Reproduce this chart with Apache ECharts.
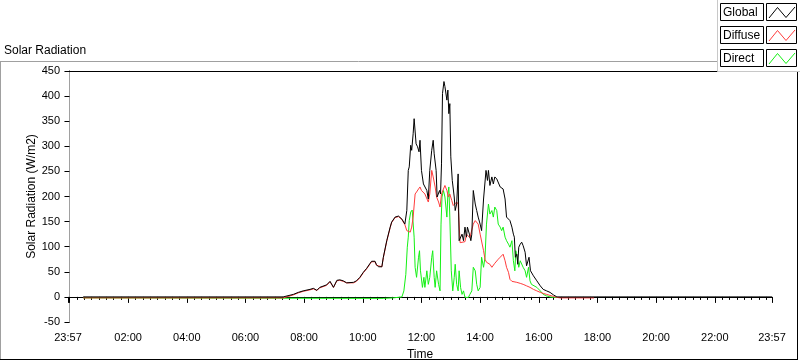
<!DOCTYPE html>
<html><head><meta charset="utf-8">
<script src="https://cdn.jsdelivr.net/npm/echarts@6/dist/echarts.min.js"></script>
<style>html,body{margin:0;padding:0;background:#fff}#c{width:800px;height:361px}</style>
</head><body><div id="c"></div><script>
// ---- data (times as HH:MM, values in W/m2) ----
const xTickLabels = ["23:57","02:00","04:00","06:00","08:00","10:00","12:00","14:00","16:00","18:00","20:00","22:00","23:57"];
const yTicks = [-50,0,50,100,150,200,250,300,350,400,450];

const globalTimes = ["00:28","07:17","07:38","07:48","07:58","08:12","08:19","08:26","08:32","08:46","08:53","09:00","09:07","09:13","09:20","09:27","09:41","09:47","09:54","10:01","10:08","10:15","10:18","10:22","10:25","10:28","10:32","10:39","10:42","10:49","10:56","10:59","11:06","11:13","11:20","11:26","11:30","11:33","11:35","11:38","11:40","11:43","11:45","11:49","11:52","11:55","11:57","12:00","12:04","12:11","12:14","12:17","12:21","12:24","12:26","12:30","12:32","12:37","12:39","12:41","12:43","12:46","12:48","12:52","12:54","12:56","12:58","13:00","13:03","13:07","13:09","13:12","13:15","13:17","13:20","13:23","13:26","13:29","13:32","13:34","13:38","13:41","13:43","13:46","13:50","13:53","13:56","14:00","14:03","14:07","14:12","14:15","14:17","14:20","14:24","14:27","14:30","14:34","14:37","14:41","14:44","14:47","14:51","14:54","14:58","15:01","15:05","15:08","15:10","15:12","15:15","15:17","15:19","15:22","15:25","15:28","15:32","15:35","15:40","15:43","15:49","15:56","16:03","16:09","16:16","16:23","16:30","16:37","23:57"];
const globalValues = [0,0,5,9,12,15,17,13,19,24,31,19,33,34,32,28,29,32,39,49,57,67,71,69,71,64,60,60,79,112,139,149,159,161,155,145,172,252,259,302,292,325,355,305,299,289,312,252,225,212,195,252,292,312,285,252,199,212,205,265,405,429,419,392,412,365,385,279,232,199,172,185,245,112,109,125,112,139,119,139,125,112,125,212,185,172,159,145,132,195,252,232,252,222,239,225,239,235,232,219,222,215,195,159,159,152,139,125,119,79,85,65,99,105,109,102,89,62,79,52,42,32,22,15,12,9,4,0,0];

const diffuseTimes = ["00:28","07:17","07:38","07:48","07:58","08:12","08:19","08:26","08:32","08:46","08:53","09:00","09:07","09:13","09:20","09:27","09:41","09:47","09:54","10:01","10:08","10:15","10:18","10:22","10:25","10:28","10:32","10:39","10:42","10:49","10:56","10:59","11:06","11:13","11:20","11:26","11:30","11:37","11:40","11:43","11:47","11:50","11:54","11:57","12:00","12:04","12:07","12:11","12:14","12:17","12:21","12:23","12:24","12:28","12:31","12:35","12:38","12:41","12:45","12:48","12:52","12:55","12:58","13:02","13:05","13:09","13:12","13:15","13:19","13:22","13:29","13:32","13:39","13:46","13:50","13:53","13:56","14:00","14:03","14:07","14:10","14:13","14:20","14:24","14:27","14:30","14:34","14:37","14:41","14:44","14:47","14:51","14:54","14:58","15:01","15:05","15:08","15:15","15:22","15:28","15:35","15:42","15:49","15:56","16:03","16:09","16:16","16:23","16:30","16:37","16:44","17:53"];
const diffuseValues = [-2,-2,4,8,11,14,16,13,18,23,30,19,32,33,31,28,28,31,38,48,56,66,70,69,70,63,60,60,78,111,138,148,158,160,154,144,132,129,139,159,205,209,215,219,212,215,205,202,189,205,252,252,239,219,199,189,179,205,215,222,212,199,205,192,182,179,189,185,108,105,110,125,118,145,152,155,145,125,128,92,75,69,65,59,62,67,69,75,79,82,85,72,59,49,35,31,29,29,27,25,22,19,15,12,9,7,5,3,1,-1,-2,-2];

const directTimes = ["00:28","10:42","11:02","11:20","11:24","11:28","11:31","11:33","11:35","11:38","11:41","11:43","11:45","11:47","11:50","11:54","11:56","11:58","12:02","12:05","12:07","12:11","12:14","12:17","12:21","12:23","12:26","12:28","12:31","12:35","12:38","12:40","12:42","12:45","12:48","12:52","12:54","12:56","12:58","13:01","13:04","13:07","13:09","13:12","13:15","13:17","13:20","13:23","13:26","13:29","13:36","13:39","13:43","13:46","13:50","13:53","13:56","14:00","14:03","14:07","14:10","14:13","14:17","14:20","14:24","14:27","14:30","14:34","14:37","14:41","14:44","14:47","14:51","14:54","14:58","15:01","15:05","15:08","15:11","15:13","15:16","15:19","15:22","15:25","15:28","15:32","15:35","15:39","15:42","15:45","15:49","15:56","16:03","16:09","16:16","16:23","16:30","16:37"];
const directValues = [-2,-3,-2,0,12,45,99,119,152,169,173,175,119,59,39,79,92,52,19,39,19,52,25,39,79,92,39,19,52,25,12,145,199,212,199,159,205,219,159,52,12,39,65,25,12,52,19,5,12,-1,-1,5,12,59,52,25,12,19,79,59,79,145,185,165,172,159,179,172,145,139,132,139,119,112,105,99,112,72,52,92,79,59,72,69,59,52,39,59,32,25,25,19,12,5,2,0,-1,-1];

const seriesNames = ["Global","Diffuse","Direct"];
const seriesColors = ["#000000","#ff3c3c","#14f014"];

// ---- helpers ----
function toMin(s){const p=s.split(':');return (+p[0])*60+(+p[1]);}
function pairs(ts,vs){return ts.map((t,i)=>[toMin(t),vs[i]]);}
const X_MIN=-3, X_MAX=1437;
const labelTicks = xTickLabels.map((l,i)=> i===0 ? X_MIN : toMin(l));
const labelMap = {}; labelTicks.forEach((v,i)=>labelMap[v]=xTickLabels[i]);
const majorTicks = labelTicks.concat([0]);
const minorTicks = []; for(let m=0;m<=1425;m+=15){ if(m%120!==0) minorTicks.push(m); }

const FONT='Liberation Sans';
const chart = echarts.init(document.getElementById('c'));
const graphic = [
  {type:'line',shape:{x1:0,y1:61.5,x2:717,y2:61.5},style:{stroke:'#a0a0a0',lineWidth:1}},
  {type:'line',shape:{x1:0.5,y1:61.5,x2:0.5,y2:360},style:{stroke:'#a0a0a0',lineWidth:1}},
  {type:'line',shape:{x1:0,y1:359.5,x2:798,y2:359.5},style:{stroke:'#000',lineWidth:1}},
  {type:'line',shape:{x1:797.5,y1:72,x2:797.5,y2:360},style:{stroke:'#000',lineWidth:1}},
  {type:'rect',z:100,shape:{x:717.5,y:-1,width:83,height:72.5},style:{fill:'#fff',stroke:'#c8c8c8',lineWidth:1}}
];
seriesNames.forEach((n,i)=>{
  const y = 3.5 + i*23;
  graphic.push({type:'rect',z:101,shape:{x:720.5,y:y,width:43,height:17},style:{fill:'#fff',stroke:'#000',lineWidth:1}});
  graphic.push({type:'text',z:102,x:723,y:y+3,style:{text:n,fill:'#000',font:'12px '+FONT,textVerticalAlign:'top'}});
  graphic.push({type:'rect',z:101,shape:{x:766.5,y:y,width:30,height:17},style:{fill:'#fff',stroke:'#000',lineWidth:1}});
  graphic.push({type:'polyline',z:102,shape:{points:[[769,y+14.5],[777.5,y+4],[786,y+14],[795,y+3.5]]},style:{stroke:seriesColors[i],lineWidth:1,fill:null}});
});

const option = {
  animation:false,
  backgroundColor:'#fff',
  textStyle:{fontFamily:FONT},
  title:{text:'Solar Radiation',left:4,top:45,padding:0,textStyle:{fontSize:12,fontWeight:'normal',color:'#000',fontFamily:FONT}},
  grid:{left:68,right:28,top:71,bottom:39,containLabel:false,outerBoundsMode:'none'},
  xAxis:[
    {type:'value',min:X_MIN,max:X_MAX,position:'bottom',
     axisLine:{lineStyle:{color:'#000',width:1}},
     axisTick:{customValues:majorTicks,length:6,lineStyle:{color:'#000'}},
     axisLabel:{customValues:labelTicks,formatter:v=>labelMap[v]||'',color:'#000',fontSize:11,margin:10,fontFamily:FONT},
     splitLine:{show:false},
     name:'Time',nameLocation:'middle',nameGap:27,nameMoveOverlap:false,nameTextStyle:{fontSize:12,color:'#000',fontFamily:FONT}},
    {type:'value',min:X_MIN,max:X_MAX,position:'bottom',axisLine:{show:false},
     axisTick:{customValues:minorTicks,length:3,lineStyle:{color:'#000'}},axisLabel:{show:false},splitLine:{show:false}},
    {type:'value',min:X_MIN,max:X_MAX,position:'top',axisLine:{lineStyle:{color:'#000'}},axisTick:{show:false},axisLabel:{show:false},splitLine:{show:false}}
  ],
  yAxis:[
    {type:'value',min:yTicks[0],max:yTicks[yTicks.length-1],interval:50,
     axisLine:{show:true,lineStyle:{color:'#000'}},axisTick:{show:true,length:5,lineStyle:{color:'#000'}},
     axisLabel:{color:'#000',fontSize:11,margin:8,fontFamily:FONT},splitLine:{show:false},
     name:'Solar Radiation (W/m2)',nameLocation:'middle',nameGap:30,nameMoveOverlap:false,nameTextStyle:{fontSize:12,color:'#000',fontFamily:FONT}},
    {type:'value',min:yTicks[0],max:yTicks[yTicks.length-1],position:'right',
     axisLine:{show:true,lineStyle:{color:'#a0a0a0'}},axisTick:{show:false},axisLabel:{show:false},splitLine:{show:false}}
  ],
  graphic:graphic,
  series:[
    {name:seriesNames[2],type:'line',data:pairs(directTimes,directValues),showSymbol:false,lineStyle:{color:seriesColors[2],width:1},itemStyle:{color:seriesColors[2]}},
    {name:seriesNames[1],type:'line',data:pairs(diffuseTimes,diffuseValues),showSymbol:false,lineStyle:{color:seriesColors[1],width:1},itemStyle:{color:seriesColors[1]}},
    {name:seriesNames[0],type:'line',data:pairs(globalTimes,globalValues),showSymbol:false,lineStyle:{color:seriesColors[0],width:1},itemStyle:{color:seriesColors[0]}}
  ]
};
chart.setOption(option);
</script></body></html>
